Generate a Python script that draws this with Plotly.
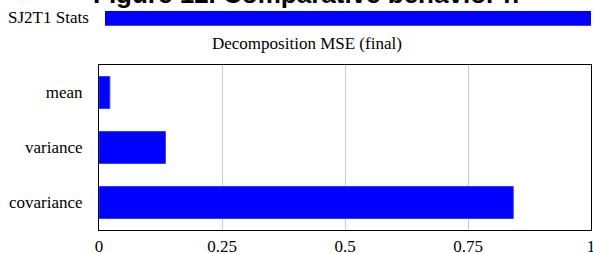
import plotly.graph_objects as go

categories = ["mean", "variance", "covariance"]
values = [0.022, 0.135, 0.842]
x_ticks = [0, 0.25, 0.5, 0.75, 1]
x_tick_labels = ["0", "0.25", "0.5", "0.75", "1"]
series_name = "SJ2T1 Stats"
chart_title = "Figure 12. Comparative behavior n"
subtitle = "Decomposition MSE (final)"

BLUE = "rgb(0,0,255)"
SERIF = "Liberation Serif"
SANS = "Liberation Sans"

fig = go.Figure()
fig.add_trace(go.Bar(
    x=values, y=categories, orientation="h",
    marker=dict(color=BLUE, line=dict(color="rgb(40,60,255)", width=1)),
    name=series_name, showlegend=False,
))

fig.update_layout(
    width=593, height=254,
    margin=dict(l=99, r=2, t=65, b=24, autoexpand=False),
    paper_bgcolor="white", plot_bgcolor="white",
    bargap=0.42,
    font=dict(family=SERIF, size=17, color="black"),
    xaxis=dict(
        range=[0, 1], tickvals=x_ticks, ticktext=x_tick_labels,
        showgrid=True, gridcolor="#cccccc", gridwidth=1,
        showline=True, linecolor="black", linewidth=1, mirror=True,
        ticks="outside", ticklen=1, tickcolor="rgba(0,0,0,0)",
        ticklabeloverflow="allow", automargin=False,
        zeroline=False, fixedrange=True,
    ),
    yaxis=dict(
        autorange="reversed",
        showgrid=False,
        showline=True, linecolor="black", linewidth=1, mirror=True,
        ticks="outside", ticklen=12, tickcolor="rgba(0,0,0,0)",
        automargin=False,
        fixedrange=True,
    ),
    shapes=[dict(
        type="rect", xref="paper", yref="paper",
        x0=0.0122, x1=1.0, y0=1.238, y1=1.327,
        fillcolor=BLUE, line=dict(width=0),
    )],
    annotations=[
        dict(text="<b>" + chart_title + "</b>", xref="paper", yref="paper", x=0.421, y=1.329,
             xanchor="center", yanchor="bottom", showarrow=False,
             font=dict(family=SANS, size=26, color="black")),
        dict(text=series_name, xref="paper", yref="paper", x=-0.0163, y=1.285,
             xanchor="right", yanchor="middle", showarrow=False,
             font=dict(family=SERIF, size=17, color="black")),
        dict(text=subtitle, xref="paper", yref="paper", x=0.4228, y=1.133,
             xanchor="center", yanchor="middle", showarrow=False,
             font=dict(family=SERIF, size=17, color="black")),
    ],
)

fig.write_html(
    "out.html",
    config={"displayModeBar": False},
    post_script="document.body.style.margin='0';document.body.style.overflow='hidden';",
)
